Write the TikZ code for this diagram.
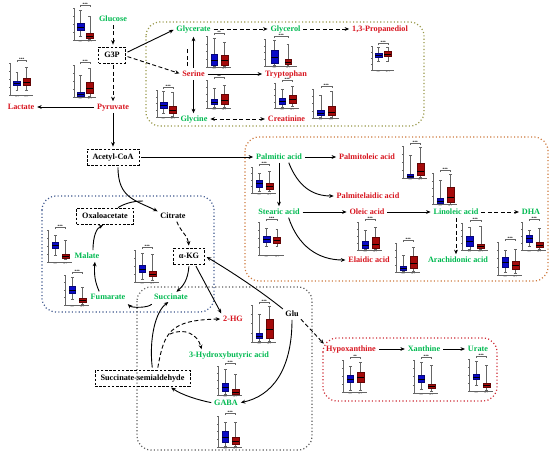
\documentclass[tikz,border=0pt]{standalone}
\usepackage{fontspec}
\setmainfont{Liberation Serif}
\usetikzlibrary{arrows.meta}
\definecolor{mgreen}{RGB}{0,185,80}
\definecolor{mred}{RGB}{215,20,30}
\definecolor{bblue}{RGB}{10,10,200}
\definecolor{bred}{RGB}{165,10,10}
\definecolor{olivedot}{RGB}{150,150,70}
\definecolor{orangedot}{RGB}{205,120,60}
\definecolor{bluedot}{RGB}{60,85,140}
\definecolor{graydot}{RGB}{90,90,90}
\definecolor{reddot}{RGB}{205,40,50}
\tikzset{
 lab/.style={font=\bfseries\fontsize{8.2}{9}\selectfont, inner sep=0.8pt, text height=5.6pt, text depth=0pt},
 gl/.style={lab,text=mgreen}, rl/.style={lab,text=mred}, kl/.style={lab,text=black},
 dbox/.style={lab, draw, line width=0.8pt, dash pattern=on 2.6pt off 1.6pt, inner xsep=5.5pt, minimum height=16pt},
 arr/.style={line width=0.9pt, -{Stealth[length=4.5pt,width=3.8pt]}, shorten >=2pt, shorten <=2pt},
 darr/.style={arr, dash pattern=on 4pt off 2.5pt},
 dbarr/.style={darr, {Stealth[length=4.5pt,width=3.8pt]}-{Stealth[length=4.5pt,width=3.8pt]}},
 region/.style={line width=1.2pt, dash pattern=on 1.1pt off 2.3pt, rounded corners=14pt},
 bpax/.style={line width=0.3pt, black!60},
 bpwh/.style={line width=0.3pt, black!60},
 sigl/.style={font=\bfseries\fontsize{3.5}{3.5}\selectfont, inner sep=0pt},
 xlab/.style={font=\fontsize{2}{2}\selectfont, inner sep=0pt, text=black!70},
}
\def\onebox#1#2#3/#4/#5/#6/#7!{%
 \draw[bpwh] (#1,-#3) -- (#1,-#4) (#1,-#6) -- (#1,-#7) (#1-1.4,-#3) -- (#1+1.4,-#3) (#1-1.4,-#7) -- (#1+1.4,-#7);
 \filldraw[fill=#2,draw=#2!60!black,line width=0.25pt] (#1-3.4,-#4) rectangle (#1+3.4,-#6);
 \draw[line width=0.3pt] (#1-3.4,-#5) -- (#1+3.4,-#5);}
\newcommand{\bp}[6]{%
\begin{scope}[shift={(#1)}]
 \def\bw{#2}\def\bh{#3}
 \draw[bpax] (0,-\bh) -- (0,0) -- (\bw,0);
 \foreach \tk in {0,0.25,0.5,0.75,1}{\draw[bpax] (0,-\tk*\bh) -- (-1.2,-\tk*\bh);}
 \onebox{0.3*\bw}{bblue}#5!%
 \onebox{0.72*\bw}{bred}#6!%
 \draw[bpax] (0.3*\bw,-\bh-1) -- (0.3*\bw,-\bh-2.5) -- (0.72*\bw,-\bh-2.5) -- (0.72*\bw,-\bh-1);
 \node[sigl] at (0.51*\bw,-\bh-3.6) {#4};
 \node[xlab] at (0.3*\bw,2) {AST};
 \node[xlab] at (0.72*\bw,2) {HCT};
\end{scope}}
\begin{document}
\begin{tikzpicture}[x=1pt,y=-1pt]
\useasboundingbox (0,0) rectangle (550,458);
% regions
\draw[region, olivedot] (146,22) rectangle (424,126);
\draw[region, orangedot] (245,137) rectangle (548,281);
\draw[region, bluedot] (42,196) rectangle (214,312);
\draw[region, graydot] (137,287) rectangle (312,450);
\draw[region, reddot] (323,338) rectangle (497,401);
% box plots
\bp{74,40}{22}{32}{***}{4/10/13/17/30}{1/2/4/7/24}
\bp{10,95}{23}{32}{***}{5/10/12/14/23}{5/10/13/17/28}
\bp{74,97}{22}{32}{***}{0/1/3/5/22}{1/4/9/15/29}
\bp{157,117}{22}{27}{***}{4/9/12/15/26}{1/4/7/11/25}
\bp{207,67}{24}{31}{**}{1/2/7/13/29}{1/2/7/12/25}
\bp{207,108}{24}{28}{**}{1/4/6/9/20}{1/4/8/14/23}
\bp{265,66}{32}{27}{***}{1/3/9/16/26}{1/2/4/7/22}
\bp{372,70}{22}{24}{***}{9/13/15/17/23}{9/14/16/19/23}
\bp{275,108}{24}{25}{***}{1/4/7/10/19}{2/5/9/13/22}
\bp{313,118}{26}{29}{***}{1/3/5/8/23}{1/3/6/12/27}
\bp{252,193}{24}{26}{***}{2/6/10/13/20}{2/4/7/10/22}
\bp{403,178}{24}{32}{***}{0/1/2/4/23}{1/3/7/15/31}
\bp{433,204}{24}{31}{***}{0/1/3/6/24}{0/2/7/17/30}
\bp{259,255}{25}{33}{***}{9/13/16/19/27}{9/12/15/18/26}
\bp{358,250}{24}{28}{***}{1/2/5/9/20}{1/2/6/13/23}
\bp{396,272}{24}{29}{***}{1/2/4/6/17}{1/4/9/16/25}
\bp{462,250}{26}{27}{***}{1/4/9/14/23}{1/2/4/6/24}
\bp{498,275}{24}{33}{***}{3/8/13/18/25}{2/6/10/14/26}
\bp{522,250}{24}{28}{***}{4/8/12/15/20}{1/3/5/8/22}
\bp{48,262}{24}{32}{***}{7/14/17/20/27}{3/4/6/8/22}
\bp{65,305}{24}{30}{***}{6/12/15/19/28}{1/3/5/7/18}
\bp{135,282}{24}{32}{***}{3/10/13/17/29}{2/6/8/11/28}
\bp{252,342}{24}{37}{***}{1/4/6/9/28}{1/4/13/23/36}
\bp{218,395}{24}{29}{***}{1/4/8/12/26}{0/1/3/6/21}
\bp{218,447}{24}{31}{***}{1/5/10/16/25}{1/3/6/10/25}
\bp{343,392}{24}{32}{**}{2/10/13/17/26}{2/10/15/20/30}
\bp{414,393}{24}{33}{***}{4/11/14/18/31}{2/5/7/9/28}
\bp{469,391}{24}{32}{***}{6/12/14/17/30}{1/4/6/8/26}
% nodes
\node[gl] (glucose) at (113,19) {Glucose};
\node[dbox] (g3p) at (112,55) {G3P};
\node[rl] (pyr) at (113,107) {Pyruvate};
\node[rl] (lac) at (21,107) {Lactate};
\node[gl] (glycerate) at (193.5,29) {Glycerate};
\node[gl] (glycerol) at (285.5,29) {Glycerol};
\node[rl] (prop) at (380,29) {1,3-Propanediol};
\node[rl] (serine) at (193.5,74) {Serine};
\node[rl] (trp) at (286,74) {Tryptophan};
\node[gl] (glycine) at (194,119) {Glycine};
\node[rl] (creat) at (286.5,119) {Creatinine};
\node[dbox] (acoa) at (113,157) {Acetyl-CoA};
\node[dbox] (oaa) at (105,216) {Oxaloacetate};
\node[kl] (cit) at (173,216) {Citrate};
\node[dbox] (akg) at (189,256) {α-KG};
\node[gl] (mal) at (87,256) {Malate};
\node[gl] (fum) at (108,297) {Fumarate};
\node[gl] (suc) at (171,297) {Succinate};
\node[rl] (hg) at (233,319) {2-HG};
\node[kl] (glu) at (292,314) {Glu};
\node[gl] (hba) at (229,355) {3-Hydroxybutyric acid};
\node[gl] (gaba) at (226,403) {GABA};
\node[dbox] (ssa) at (142.5,378) {Succinate-semialdehyde};
\node[gl] (pal) at (279,157) {Palmitic acid};
\node[rl] (palo) at (367,157) {Palmitoleic acid};
\node[rl] (pale) at (368,196) {Palmitelaidic acid};
\node[gl] (ste) at (279,212) {Stearic acid};
\node[rl] (ole) at (367,212) {Oleic acid};
\node[gl] (lin) at (456,212) {Linoleic acid};
\node[gl] (dha) at (531,212) {DHA};
\node[rl] (ela) at (369,260) {Elaidic acid};
\node[gl] (ara) at (458,260) {Arachidonic acid};
\node[rl] (hyp) at (351,349) {Hypoxanthine};
\node[gl] (xan) at (424,349) {Xanthine};
\node[gl] (ura) at (478,349) {Urate};
% glycolysis & serine
\draw[darr] (glucose.south) -- (glucose.south |- g3p.north);
\draw[darr] (pyr.north |- g3p.south) -- (pyr.north);
\draw[arr] ([yshift=2pt]g3p.east) -- (glycerate.west);
\draw[darr] ([yshift=-1pt]g3p.east) -- (serine.west);
\draw[arr] (pyr.west) -- (lac.east);
\draw[arr] (pyr.south) -- (pyr.south |- acoa.north);
\draw[arr, shorten >=4pt] (serine.north) -- (glycerate.south);
\draw[line width=0.9pt, dash pattern=on 4pt off 2.5pt, shorten <=4pt, shorten >=14pt] ([xshift=-6.5pt]serine.north) -- ([xshift=-6.5pt]glycerate.south);
\draw[arr] (serine.south) -- (serine.south |- glycine.north);
\draw[arr] (serine.east) -- (trp.west);
\draw[darr] (glycerate.east) -- (glycerol.west);
\draw[darr] (glycerol.east) -- (prop.west);
\draw[dbarr] (glycine.east) -- (creat.west);
\draw[arr] (acoa.east) -- (pal.west);
% TCA
\coordinate (jn) at (143,201);
\draw[arr] ([xshift=5pt]acoa.south) .. controls (118,198) and (135,200) .. (cit.north west);
\draw[line width=0.9pt] ([xshift=13pt]oaa.north) .. controls (124,204) and (132,201) .. (jn);
\draw[darr] ([xshift=3pt]cit.south) .. controls (181,232) and (188,236) .. (akg.north);
\draw[arr] ([xshift=6pt]mal.north) .. controls (93,235) and (97,228) .. (oaa.south);
\draw[arr] ([xshift=-8pt]fum.north) .. controls (95,282) and (94,275) .. ([xshift=8pt]mal.south);
\draw[arr] ([yshift=-2pt]suc.south west) .. controls (148,308) and (132,308) .. ([yshift=-2pt]fum.south east);
\draw[arr] (akg.south) .. controls (188,280) and (183,286) .. ([xshift=4pt]suc.north);
\draw[arr] ([xshift=6pt]akg.south) -- (hg.north west);
\draw[arr] (glu.north west) .. controls (262,292) and (232,272) .. (akg.east);
\draw[arr] (glu.south) .. controls (292,370) and (272,396) .. (gaba.east);
\draw[darr] (glu.south east) -- (hyp.north west);
\draw[arr] ([xshift=10pt]ssa.north) .. controls (149,340) and (155,312) .. ([xshift=-1pt]suc.south);
\coordinate (br) at (168,335);
\draw[darr] ([xshift=15pt]ssa.north) .. controls (164,332) and (170,320) .. (hg.west);
\draw[darr] (br) .. controls (185,327) and (198,335) .. ([xshift=-27pt]hba.north);
\draw[arr] (gaba.west) .. controls (198,400) and (182,395) .. ([xshift=27pt]ssa.south);
% fatty acids
\draw[arr] (pal.east) -- (palo.west);
\draw[arr] ([xshift=9pt]pal.south) .. controls (298,186) and (312,196) .. (pale.west);
\draw[arr] (pal.south) -- (ste.north);
\draw[arr] (ste.east) -- (ole.west);
\draw[arr] ([xshift=9pt]ste.south) .. controls (298,246) and (318,260) .. (ela.west);
\draw[arr] (ole.east) -- (lin.west);
\draw[darr] (lin.east) -- (dha.west);
\draw[darr] (lin.south) -- (lin.south |- ara.north);
% purine
\draw[arr] (hyp.east) -- (xan.west);
\draw[arr] (xan.east) -- (ura.west);
\end{tikzpicture}
\end{document}
